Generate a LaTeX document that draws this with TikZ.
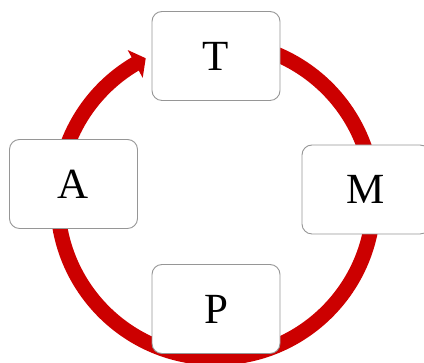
\documentclass[tikz,border=0pt]{standalone}
\usepackage{fontspec}
\setmainfont{Liberation Serif}
\usetikzlibrary{arrows.meta,bending,calc}
\definecolor{ringred}{RGB}{204,0,0}
\definecolor{boxgray}{RGB}{150,150,150}
\tikzset{
  stagebox/.style={draw=boxgray, line width=0.9pt, fill=white, rounded corners=10pt,
    minimum width=128pt, minimum height=89pt, inner sep=0pt,
    font=\fontsize{43}{43}\selectfont},
  ring/.style={draw=ringred, line width=15pt,
    -{Triangle[length=12pt,width=31pt,flex]}}
}
\begin{document}
\begin{tikzpicture}[x=1pt,y=1pt]
\clip (0,0) rectangle (424,363);
\useasboundingbox (0,0) rectangle (424,363);
\coordinate (ctr) at (215.5,163);
\coordinate (start) at ($(ctr)+(90:158)$);
\draw[ring] (start) arc[start angle=90, end angle=-243.8, radius=158];
\node[stagebox] (T) at (216,307) {T};
\node[stagebox] (M) at (366,173.5) {M};
\node[stagebox] (P) at (216,54) {P};
\node[stagebox] (A) at (73.5,179) {A};
\end{tikzpicture}
\end{document}
